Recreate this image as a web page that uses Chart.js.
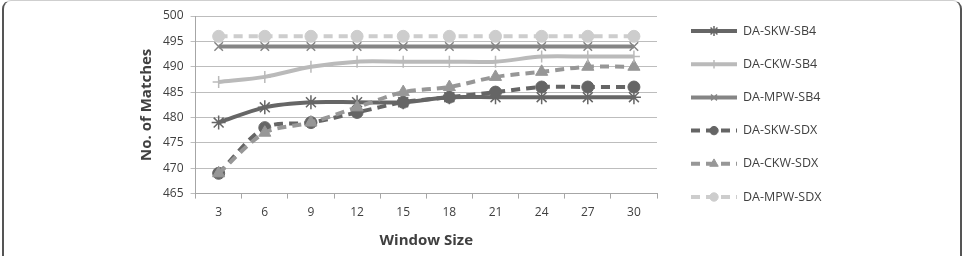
<!DOCTYPE html>
<html>
<head>
<meta charset="utf-8">
<script src="https://cdn.jsdelivr.net/npm/chart.js@4.4.1/dist/chart.umd.min.js"></script>
<style>
    html, body { margin: 0; padding: 0; background: #fff; }
    #frame {
        position: absolute; left: 2px; top: 0; width: 960px; height: 280px;
        border: 2px solid #555; border-top: 1px solid #cfcfcf;
        border-radius: 9px; box-sizing: border-box;
    }
    #wrap { position: absolute; left: 0; top: 0; width: 971px; height: 256px; }
</style>
</head>
<body>
<div id="frame"></div>
<div id="wrap"><canvas id="matchesChart" width="971" height="256"></canvas></div>
<script>
// window sizes on the x axis
const windowSizes = ['3', '6', '9', '12', '15', '18', '21', '24', '27', '30'];

const skwSb4 = [479, 482, 483, 483, 483, 484, 484, 484, 484, 484];
const ckwSb4 = [487, 488, 490, 491, 491, 491, 491, 492, 492, 492];
const mpwSb4 = [494, 494, 494, 494, 494, 494, 494, 494, 494, 494];
const skwSdx = [469, 478, 479, 481, 483, 484, 485, 486, 486, 486];
const ckwSdx = [469, 477, 479, 482, 485, 486, 488, 489, 490, 490];
const mpwSdx = [496, 496, 496, 496, 496, 496, 496, 496, 496, 496];

const yTicks = [465, 470, 475, 480, 485, 490, 495, 500];

const textColor = '#404040';
const fontFamily = '"Open Sans", "Liberation Sans", sans-serif';

function makeSeries(label, data, color, style, radius, dashed) {
    return {
        label: label,
        data: data,
        borderColor: color,
        backgroundColor: color,
        pointBorderColor: color,
        pointBackgroundColor: color,
        pointStyle: style,
        pointRadius: radius,
        pointBorderWidth: style === 'circle' || style === 'triangle' ? 1 : 1.5,
        borderWidth: 4,
        borderDash: dashed ? [9, 6] : [],
        tension: 0.3,
        fill: false
    };
}

const datasets = [
    makeSeries('DA-MPW-SDX', mpwSdx, '#cdcdcd', 'circle', 6, true),
    makeSeries('DA-CKW-SB4', ckwSb4, '#bababa', 'cross', 6, false),
    makeSeries('DA-MPW-SB4', mpwSb4, '#858585', 'crossRot', 6, false),
    makeSeries('DA-CKW-SDX', ckwSdx, '#979797', 'triangle', 7, true),
    makeSeries('DA-SKW-SDX', skwSdx, '#656565', 'circle', 6, true),
    makeSeries('DA-SKW-SB4', skwSb4, '#666666', 'star', 7, false)
];

const legendOrder = ['DA-SKW-SB4', 'DA-CKW-SB4', 'DA-MPW-SB4', 'DA-SKW-SDX', 'DA-CKW-SDX', 'DA-MPW-SDX'];

// legend drawn on the canvas: a short line with the series marker, then the name
const sideLegend = {
    id: 'sideLegend',
    afterDraw(chart) {
        const ctx = chart.ctx;
        ctx.save();
        legendOrder.forEach((name, i) => {
            const ds = chart.data.datasets.find(d => d.label === name);
            const y = 31 + i * 33.2;
            ctx.strokeStyle = ds.borderColor;
            ctx.lineWidth = 4;
            ctx.setLineDash(ds.borderDash.length ? [9, 6] : []);
            ctx.beginPath();
            ctx.moveTo(691, y);
            ctx.lineTo(737, y);
            ctx.stroke();
            ctx.setLineDash([]);
            ctx.fillStyle = ds.backgroundColor;
            ctx.lineWidth = ds.pointBorderWidth;
            Chart.helpers.drawPoint(ctx, {pointStyle: ds.pointStyle, radius: ds.pointRadius * 0.7, borderWidth: 1}, 714, y);
            ctx.fillStyle = textColor;
            ctx.font = '12.5px ' + fontFamily;
            ctx.textBaseline = 'middle';
            ctx.fillText(name, 743, y);
        });
        ctx.restore();
    }
};

const ctx = document.getElementById('matchesChart').getContext('2d');
window.chart = new Chart(ctx, {
    type: 'line',
    data: { labels: windowSizes, datasets: datasets },
    plugins: [sideLegend],
    options: {
        responsive: false,
        animation: false,
        layout: { padding: { left: 138, right: 314, top: 16, bottom: 6 } },
        plugins: {
            legend: { display: false },
            tooltip: { enabled: false }
        },
        scales: {
            x: {
                offset: true,
                grid: { display: true, drawOnChartArea: false, offset: true, tickLength: 5, color: '#a6a6a6' },
                border: { color: '#a6a6a6' },
                ticks: { color: textColor, font: { size: 12, family: fontFamily }, padding: 7 },
                title: {
                    display: true, text: 'Window Size', color: textColor,
                    font: { size: 15, weight: 'bold', family: fontFamily }, padding: { top: 5, bottom: 0 }
                }
            },
            y: {
                min: 465,
                max: 500,
                afterBuildTicks: (scale) => { scale.ticks = yTicks.map(v => ({ value: v })); },
                grid: { color: '#bdbdbd', tickLength: 5 },
                border: { color: '#a6a6a6' },
                ticks: { color: textColor, font: { size: 12, family: fontFamily }, padding: 7 },
                title: {
                    display: true, text: 'No. of Matches', color: textColor,
                    font: { size: 15, weight: 'bold', family: fontFamily }, padding: { top: 0, bottom: 0 }
                }
            }
        }
    }
});
</script>
</body>
</html>
